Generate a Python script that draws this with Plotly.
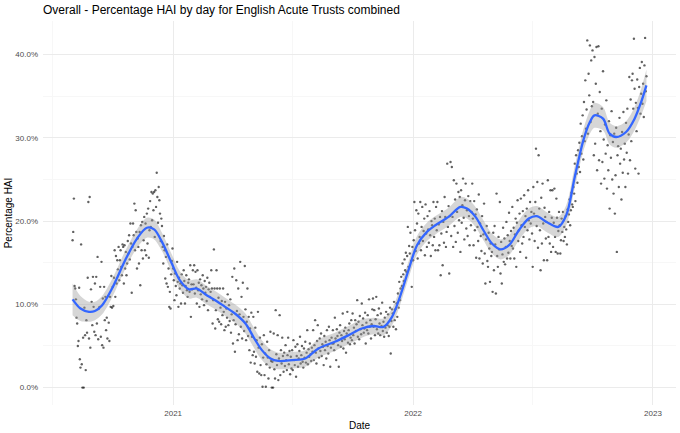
import pandas as pd
import plotly.graph_objects as go

v2020_08 = [17.7, 18.7, 22.7, 12.2, 11.9, 10.6, 8.4, 7.7, 5.0, 5.6, 12.0, 3.4, 2.4, 17.2, 2.8, 0.0, 6.0, 0.0, 9.6, 6.3, 2.1, 8.1, 6.6, 13.2, 22.3, 5.9, 22.9, 4.8, 11.8, 10.3, 7.5]
v2020_09 = [13.3, 9.7, 6.7, 12.5, 6.3, 13.3, 7.7, 15.7, 5.8, 9.5, 9.7, 12.1, 6.1, 15.1, 5.1, 10.7, 4.8, 12.1, 8.1, 10.9, 6.9, 8.4, 5.9, 11.0, 7.8, 5.6, 10.9, 9.7, 13.4, 9.6]
v2020_10 = [12.1, 9.8, 13.2, 16.5, 10.9, 15.8, 12.5, 15.3, 14.2, 16.9, 12.9, 15.3, 16.5, 14.5, 13.5, 17.2, 16.9, 12.5, 17.1, 14.3, 16.3, 13.5, 14.9, 17.6, 16.1, 18.3, 15.4, 19.7, 17.3, 11.4, 16.9]
v2020_11 = [19.7, 18.3, 22.1, 16.5, 21.3, 18.7, 14.3, 17.9, 16.9, 14.9, 18.7, 12.3, 19.5, 16.5, 19.9, 15.5, 17.7, 20.5, 16.5, 19.7, 15.9, 20.9, 17.3, 21.5, 15.6, 18.9, 22.4, 19.3, 23.5, 20.1]
v2020_12 = [23.3, 21.3, 23.5, 18.1, 23.7, 21.7, 25.8, 22.9, 19.8, 24.1, 22.5, 20.9, 17.6, 20.3, 19.4, 16.9, 14.9, 18.2, 16.5, 13.1, 15.7, 12.5, 17.2, 12.1, 14.3, 9.7, 11.5, 9.5, 13.6, 15.2, 16.7]
v2021_01 = [14.3, 12.9, 10.5, 13.7, 12.2, 11.1, 15.1, 12.7, 9.7, 13.2, 11.9, 12.5, 10.1, 13.6, 12.3, 11.4, 14.1, 12.8, 10.1, 12.2, 13.5, 11.7, 10.9, 12.6, 13.0, 11.5, 14.7, 8.5, 12.4, 11.8, 14.1]
v2021_02 = [12.4, 14.7, 11.3, 13.9, 12.0, 10.1, 14.1, 11.7, 12.6, 9.7, 13.0, 11.2, 12.3, 10.6, 13.5, 11.9, 9.9, 12.8, 11.4, 12.1, 10.4, 13.2, 9.3, 11.8, 12.6, 10.9, 11.5, 14.1]
v2021_03 = [11.9, 7.7, 10.5, 16.6, 11.9, 7.1, 9.3, 14.1, 11.9, 8.2, 10.8, 7.9, 11.9, 9.6, 7.6, 10.4, 8.7, 11.9, 9.1, 6.9, 10.3, 7.3, 9.5, 8.4, 11.2, 7.5, 9.9, 8.0, 10.6, 6.6, 8.8]
v2021_04 = [13.3, 5.3, 8.1, 14.3, 4.3, 7.6, 12.9, 9.2, 5.7, 11.9, 6.4, 8.8, 15.1, 7.3, 10.9, 5.9, 12.6, 8.5, 6.8, 14.6, 9.4, 5.7, 7.9, 11.9, 6.2, 8.5, 4.5, 7.1, 3.0, 9.0]
v2021_05 = [6.1, 3.9, 8.5, 4.3, 2.9, 7.2, 3.7, 5.7, 1.9, 9.1, 4.8, 1.7, 6.0, 2.7, 1.5, 5.2, 0.1, 3.6, 6.3, 1.5, 4.1, 0.1, 2.8, 5.5, 3.6, 1.1, 4.5, 2.4, 6.7, 3.2, 0.0]
v2021_06 = [3.1, 0.0, 6.5, 2.2, 1.1, 9.3, 4.0, 2.7, 6.3, 0.9, 3.5, 8.7, 1.5, 4.5, 2.9, 6.0, 3.8, 1.9, 4.2, 2.6, 5.1, 3.3, 2.1, 3.9, 6.0, 2.8, 4.4, 1.6, 3.7, 2.3]
v2021_07 = [4.5, 2.1, 5.7, 3.3, 2.7, 4.9, 1.3, 3.8, 5.2, 2.5, 3.5, 4.4, 6.1, 2.9, 3.9, 5.0, 3.1, 2.4, 4.7, 3.6, 5.5, 3.0, 4.2, 6.9, 2.8, 4.6, 3.7, 5.3, 4.0, 3.2, 4.8]
v2021_08 = [4.3, 6.9, 3.3, 5.1, 8.1, 4.2, 2.9, 5.6, 7.5, 4.7, 3.6, 5.9, 4.4, 6.5, 3.8, 5.2, 4.9, 2.7, 6.2, 4.5, 5.5, 3.5, 6.9, 5.0, 4.1, 7.3, 5.7, 2.5, 4.8, 6.0, 5.3]
v2021_09 = [6.9, 5.3, 4.5, 8.4, 5.9, 3.3, 7.0, 6.2, 5.1, 2.5, 6.6, 7.5, 4.9, 6.3, 5.6, 8.9, 4.7, 6.8, 5.8, 7.2, 4.2, 6.5, 9.1, 5.4, 6.9, 7.7, 5.2, 6.0, 8.1, 5.7]
v2021_10 = [8.9, 6.3, 7.2, 5.3, 8.1, 6.8, 7.6, 10.5, 6.1, 7.9, 5.8, 8.6, 7.0, 6.4, 10.1, 7.5, 8.3, 6.6, 7.1, 9.0, 5.3, 7.8, 6.9, 8.7, 6.5, 10.6, 7.3, 8.1, 5.9, 7.6, 9.4]
v2021_11 = [10.7, 7.3, 9.3, 6.3, 8.2, 10.9, 7.0, 8.7, 6.5, 9.5, 7.7, 6.3, 8.9, 7.4, 10.2, 6.8, 7.9, 6.1, 8.4, 7.2, 9.1, 6.6, 7.5, 8.8, 6.2, 7.3, 9.6, 4.1, 8.0, 9.4]
v2021_12 = [8.9, 7.3, 10.3, 8.1, 9.4, 7.0, 10.1, 8.5, 11.3, 9.6, 12.7, 10.5, 11.9, 13.3, 12.2, 14.9, 13.6, 12.8, 15.4, 14.1, 16.2, 13.9, 15.8, 19.3, 14.5, 17.0, 16.1, 18.6, 15.2, 12.1, 16.9]
v2022_01 = [15.3, 17.7, 22.3, 18.9, 16.4, 21.3, 19.7, 15.5, 20.9, 17.3, 18.1, 22.3, 16.5, 19.3, 21.7, 17.6, 18.8, 20.3, 15.9, 22.0, 18.5, 16.9, 20.6, 19.0, 17.4, 21.2, 18.3, 15.8, 20.0, 19.5, 17.1]
v2022_02 = [22.3, 18.1, 20.3, 16.5, 21.7, 18.9, 22.3, 16.5, 19.6, 17.1, 20.5, 13.5, 18.5, 21.2, 14.7, 19.9, 17.4, 22.9, 20.5, 16.9, 18.7, 26.9, 19.3, 21.8, 13.7, 20.6, 27.1, 18.2]
v2022_03 = [26.5, 20.5, 16.9, 24.9, 19.4, 22.6, 17.5, 24.5, 21.1, 18.6, 23.5, 20.1, 22.9, 16.3, 23.7, 19.8, 21.9, 25.1, 20.4, 17.8, 22.5, 24.5, 19.1, 21.3, 18.2, 23.0, 20.6, 17.1, 22.4, 19.5, 21.1]
v2022_04 = [24.5, 20.3, 17.1, 22.4, 18.9, 20.8, 15.6, 21.4, 19.3, 17.6, 23.2, 15.5, 19.7, 18.2, 16.4, 20.6, 14.9, 18.4, 22.1, 16.1, 12.5, 17.8, 19.4, 15.2, 14.5, 18.6, 16.7, 12.7, 17.3, 15.8]
v2022_05 = [16.3, 11.5, 18.6, 14.1, 19.4, 17.2, 11.3, 23.3, 15.8, 14.5, 18.1, 16.6, 22.3, 13.7, 17.5, 12.5, 16.0, 19.2, 15.1, 17.9, 14.8, 16.9, 19.9, 15.5, 18.3, 16.2, 21.0, 17.6, 15.5, 18.8, 17.0]
v2022_06 = [21.7, 16.7, 19.2, 15.5, 18.4, 20.3, 14.5, 19.8, 22.5, 17.6, 18.9, 20.9, 16.3, 22.7, 19.5, 17.3, 21.2, 18.1, 23.1, 19.3, 20.6, 15.6, 21.5, 18.9, 23.7, 20.1, 17.8, 22.3, 19.7, 21.1]
v2022_07 = [18.5, 14.5, 24.1, 20.9, 17.6, 22.3, 28.7, 19.4, 24.7, 16.8, 27.9, 21.5, 18.9, 14.1, 22.8, 17.3, 24.5, 19.7, 15.3, 21.6, 20.5, 17.9, 19.9, 15.3, 24.9, 18.1, 21.1, 17.3, 23.7, 16.3, 20.4]
v2022_08 = [23.7, 16.9, 19.8, 23.9, 18.1, 16.3, 22.7, 20.4, 16.1, 18.8, 21.1, 19.5, 16.1, 17.7, 20.3, 18.7, 21.1, 17.6, 19.3, 18.1, 20.6, 19.0, 17.2, 21.4, 19.9, 20.8, 22.6, 19.5, 21.3, 23.4, 22.0]
v2022_09 = [21.7, 24.1, 23.3, 26.9, 22.4, 27.9, 25.7, 24.6, 28.5, 26.5, 29.4, 25.9, 31.7, 28.1, 30.2, 32.7, 27.4, 34.3, 29.6, 36.9, 31.1, 33.4, 41.7, 30.5, 37.7, 35.1, 41.1, 31.9, 39.3, 33.8]
v2022_10 = [40.5, 34.3, 27.9, 39.7, 29.3, 36.5, 40.9, 26.1, 32.9, 41.0, 27.3, 35.5, 30.8, 24.5, 33.5, 27.1, 38.0, 29.8, 25.1, 31.6, 28.1, 34.5, 23.9, 29.1, 26.1, 32.0, 21.5, 30.3, 27.6, 33.2, 25.0]
v2022_11 = [29.5, 23.3, 30.5, 20.9, 25.5, 31.2, 16.3, 27.9, 29.0, 24.1, 32.4, 26.9, 28.7, 22.6, 30.7, 25.8, 33.1, 27.4, 29.3, 24.1, 31.8, 28.2, 33.5, 25.7, 30.4, 37.3, 27.3, 34.6, 29.6, 36.9]
v2022_12 = [37.7, 33.5, 41.9, 35.9, 26.3, 34.2, 30.8, 37.0, 33.6, 25.7, 36.1, 38.4, 32.9, 35.3, 39.1, 34.1, 36.5, 32.5, 38.7, 42.0, 35.6, 37.4]

month_starts = ["2020-08-01", "2020-09-01", "2020-10-01", "2020-11-01", "2020-12-01",
                "2021-01-01", "2021-02-01", "2021-03-01", "2021-04-01", "2021-05-01", "2021-06-01",
                "2021-07-01", "2021-08-01", "2021-09-01", "2021-10-01", "2021-11-01", "2021-12-01",
                "2022-01-01", "2022-02-01", "2022-03-01", "2022-04-01", "2022-05-01", "2022-06-01",
                "2022-07-01", "2022-08-01", "2022-09-01", "2022-10-01", "2022-11-01", "2022-12-01"]
month_values = [v2020_08, v2020_09, v2020_10, v2020_11, v2020_12,
                v2021_01, v2021_02, v2021_03, v2021_04, v2021_05, v2021_06,
                v2021_07, v2021_08, v2021_09, v2021_10, v2021_11, v2021_12,
                v2022_01, v2022_02, v2022_03, v2022_04, v2022_05, v2022_06,
                v2022_07, v2022_08, v2022_09, v2022_10, v2022_11, v2022_12]

# ---- smoothed (loess) trend and its confidence half-width ----
smooth_dates = ["2020-08-01", "2020-08-13", "2020-08-26", "2020-09-04", "2020-09-15", "2020-09-30",
                "2020-10-20", "2020-11-07", "2020-11-22", "2020-12-03", "2020-12-15", "2020-12-30",
                "2021-01-11", "2021-01-25", "2021-02-06", "2021-02-21", "2021-03-06", "2021-03-21",
                "2021-04-05", "2021-04-21", "2021-05-03", "2021-05-16", "2021-05-29", "2021-06-10",
                "2021-07-01", "2021-07-21", "2021-08-10", "2021-09-04", "2021-09-25", "2021-10-15",
                "2021-11-02", "2021-11-17", "2021-11-30", "2021-12-12", "2021-12-25",
                "2022-01-07", "2022-01-22", "2022-02-04", "2022-02-24", "2022-03-14", "2022-03-24",
                "2022-04-06", "2022-04-18", "2022-05-01", "2022-05-14", "2022-05-27", "2022-06-11",
                "2022-06-26", "2022-07-08", "2022-07-23", "2022-08-10", "2022-08-22", "2022-09-04",
                "2022-09-17", "2022-09-27", "2022-10-04", "2022-10-17", "2022-10-27", "2022-11-06",
                "2022-11-21", "2022-12-04", "2022-12-14", "2022-12-22"]
smooth_vals = [10.6, 9.5, 9.1, 9.2, 9.9, 11.9, 15.3, 17.9, 19.2, 19.0, 17.5, 14.9,
               12.9, 11.8, 11.9, 11.1, 10.5, 9.7, 8.9, 7.7, 6.1, 4.5, 3.5, 3.2, 3.3, 3.5, 4.7,
               5.5, 6.3, 7.1, 7.4, 7.3, 8.5, 10.9, 14.1,
               17.1, 18.7, 19.5, 20.5, 21.7, 21.5, 20.5, 18.9, 17.3, 16.6, 17.1, 18.9, 20.3,
               20.6, 19.9, 19.3, 20.7, 25.3, 29.7, 31.9, 32.7, 32.3, 30.5, 30.1, 30.7, 32.3,
               34.3, 36.3]
smooth_se = [1.9, 1.5, 1.2, 1.1, 1.1, 1.1, 1.1, 1.1, 1.2, 1.2, 1.1, 1.1,
             1.1, 1.1, 1.1, 1.1, 1.1, 1.1, 1.1, 1.2, 1.2, 1.2, 1.1, 1.0, 1.0, 1.0, 1.1,
             1.1, 1.1, 1.1, 1.0, 1.0, 1.0, 1.0, 1.0,
             1.1, 1.1, 1.1, 1.1, 1.2, 1.2, 1.2, 1.2, 1.2, 1.2, 1.2, 1.2, 1.2,
             1.2, 1.2, 1.2, 1.2, 1.3, 1.3, 1.4, 1.5, 1.4, 1.3, 1.3, 1.3, 1.4,
             1.6, 1.9]

y_ticks = [0, 10, 20, 30, 40]
y_minor = [5, 15, 25, 35]
x_ticks = ["2021-01-01", "2022-01-01", "2023-01-01"]
x_ticklabels = ["2021", "2022", "2023"]
x_minor = ["2020-07-02", "2021-07-02", "2022-07-02"]

# ---- assemble daily series ----
dates, vals = [], []
for start, arr in zip(month_starts, month_values):
    dates.extend(pd.date_range(start, periods=len(arr), freq="D"))
    vals.extend(arr)

upper = [v + s for v, s in zip(smooth_vals, smooth_se)]
lower = [v - s for v, s in zip(smooth_vals, smooth_se)]

FONT = "Liberation Sans, Arial, sans-serif"

fig = go.Figure()
fig.add_trace(go.Scatter(
    x=dates, y=vals, mode="markers",
    marker=dict(size=2.4, color="rgba(0,0,0,0.62)", line=dict(width=0)),
    hoverinfo="skip", showlegend=False))
fig.add_trace(go.Scatter(
    x=smooth_dates, y=upper, mode="lines",
    line=dict(width=0, shape="spline", smoothing=0.9),
    hoverinfo="skip", showlegend=False))
fig.add_trace(go.Scatter(
    x=smooth_dates, y=lower, mode="lines", fill="tonexty",
    fillcolor="rgba(153,153,153,0.4)",
    line=dict(width=0, shape="spline", smoothing=0.9),
    hoverinfo="skip", showlegend=False))
fig.add_trace(go.Scatter(
    x=smooth_dates, y=smooth_vals, mode="lines",
    line=dict(width=2.3, color="#3366FF", shape="spline", smoothing=0.9),
    hoverinfo="skip", showlegend=False))

fig.update_layout(
    width=680, height=433,
    margin=dict(l=43, r=4, t=21, b=28),
    paper_bgcolor="white", plot_bgcolor="white",
    font=dict(family=FONT, color="black"),
    title=dict(text="Overall - Percentage HAI by day for English Acute Trusts combined",
               x=43 / 680, xref="container", xanchor="left",
               y=1 - 10 / 433, yref="container", yanchor="middle",
               font=dict(size=12, color="black", family=FONT)),
)
fig.update_xaxes(
    range=["2020-06-17", "2023-02-05"],
    tickvals=x_ticks, ticktext=x_ticklabels,
    tickfont=dict(size=8, color="#4D4D4D", family=FONT),
    showgrid=True, gridcolor="#EBEBEB", gridwidth=1,
    minor=dict(tickvals=x_minor, showgrid=True, gridcolor="#F7F7F7", gridwidth=1),
    zeroline=False, showline=False, ticks="", ticklabelstandoff=2,
    title=dict(text="Date", font=dict(size=10, color="black", family=FONT), standoff=4),
    automargin=False,
)
fig.update_yaxes(
    range=[-2.09, 44.03],
    tickvals=y_ticks, ticktext=[f"{t:.1f}%" for t in y_ticks],
    tickfont=dict(size=8, color="#4D4D4D", family=FONT),
    showgrid=True, gridcolor="#EBEBEB", gridwidth=1,
    minor=dict(tickvals=y_minor, showgrid=True, gridcolor="#F7F7F7", gridwidth=1),
    zeroline=False, showline=False, ticks="", ticklabelstandoff=4,
    title=dict(text="Percentage HAI", font=dict(size=10, color="black", family=FONT), standoff=0),
    automargin=False,
)

fig.write_html("out.html")
